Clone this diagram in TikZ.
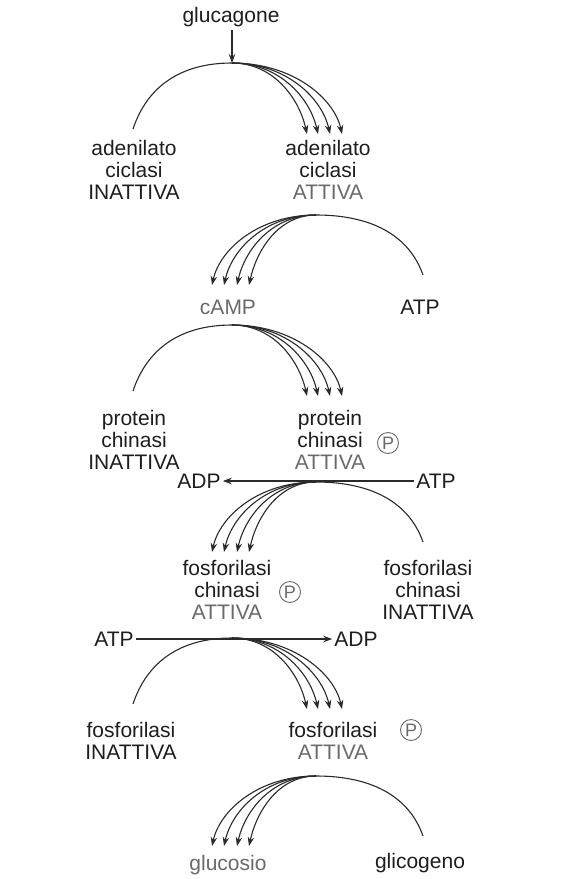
\documentclass[tikz,border=0pt]{standalone}
\usepackage{fontspec}
\setmainfont{Liberation Sans}
\usetikzlibrary{arrows.meta}
\definecolor{ink}{HTML}{1E1E1E}
\definecolor{act}{HTML}{6A6A6A}
\definecolor{linec}{HTML}{2A2A2A}
\begin{document}
\begin{tikzpicture}[x=1pt,y=-1pt,
  lbl/.style={font=\fontsize{21}{22}\selectfont, text=ink, align=center, inner sep=0pt},
  pcirc/.style={circle, draw=act, line width=0.9pt, text=act, minimum size=21pt, inner sep=0pt, font=\fontsize{18}{18}\selectfont},
  curve/.style={draw=linec, line width=1.1pt},
  arr/.style={curve, -{Stealth[length=9pt,width=6.5pt]}}]
\useasboundingbox[fill=white] (0,0) rectangle (584,879);

% labels
\node[lbl] (gluc) at (231,17) {glucagone};
\node[lbl] (acI) at (134,170) {adenilato\\ciclasi\\INATTIVA};
\node[lbl] (acA) at (328,170) {adenilato\\ciclasi\\\textcolor{act}{ATTIVA}};
\node[lbl] (camp) at (228,307) {\textcolor{act}{cAMP}};
\node[lbl] (atp1) at (420,307) {ATP};
\node[lbl] (pkI) at (134,440) {protein\\chinasi\\INATTIVA};
\node[lbl] (pkA) at (330,440) {protein\\chinasi\\\textcolor{act}{ATTIVA}};
\node[pcirc] (p1) at (388,443) {P};
\node[lbl] (adp1) at (199,481) {ADP};
\node[lbl] (atp2) at (436,481) {ATP};
\node[lbl] (fkA) at (227,590) {fosforilasi\\chinasi\\\textcolor{act}{ATTIVA}};
\node[pcirc] (p2) at (290,592) {P};
\node[lbl] (fkI) at (428,590) {fosforilasi\\chinasi\\INATTIVA};
\node[lbl] (atp3) at (114,639) {ATP};
\node[lbl] (adp2) at (356,639) {ADP};
\node[lbl] (fI) at (131,741) {fosforilasi\\INATTIVA};
\node[lbl] (fA) at (333,741) {fosforilasi\\\textcolor{act}{ATTIVA}};
\node[pcirc] (p3) at (411,730) {P};
\node[lbl] (gls) at (228,865) {\textcolor{act}{glucosio}};
\node[lbl] (glc) at (420,863) {glicogeno};

% left-opening arcs (inactive -> active)
\foreach \n/\ty in {1/63, 3/325, 5/638} {
  \coordinate (T\n) at (232,\ty);
  \coordinate (L\n) at (133,\ty+66);
  \draw[curve] (L\n) .. controls +(14,-42) and +(-52,0) .. (T\n);
  \foreach \k/\xx in {1/307,2/318,3/330,4/342} {
    \coordinate (E\n\k) at (\xx,\ty+71);
    \draw[arr] (T\n) .. controls +({0.55*(\xx-232)},0) and +(-8,-36) .. (E\n\k);
  }
}
% right-opening arcs (substrate -> product)
\foreach \n/\ty in {2/215, 4/482, 6/776} {
  \coordinate (T\n) at (316,\ty);
  \coordinate (R\n) at (423,\ty+60);
  \draw[curve] (T\n) .. controls +(55,0) and +(-14,-40) .. (R\n);
  \foreach \k/\xx in {1/212,2/224,3/237,4/249} {
    \coordinate (E\n\k) at (\xx,\ty+70);
    \draw[arr] (T\n) .. controls +({-0.55*(316-\xx)},0) and +(8,-36) .. (E\n\k);
  }
}

% straight arrows
\draw[arr, shorten <=3pt] (gluc.south -| T1) -- (T1);
\draw[arr, shorten <=2pt, shorten >=2pt] (atp2.west) -- (adp1.east);
\draw[arr, shorten <=2pt, shorten >=2pt] (atp3.east) -- (adp2.west);
\end{tikzpicture}
\end{document}
